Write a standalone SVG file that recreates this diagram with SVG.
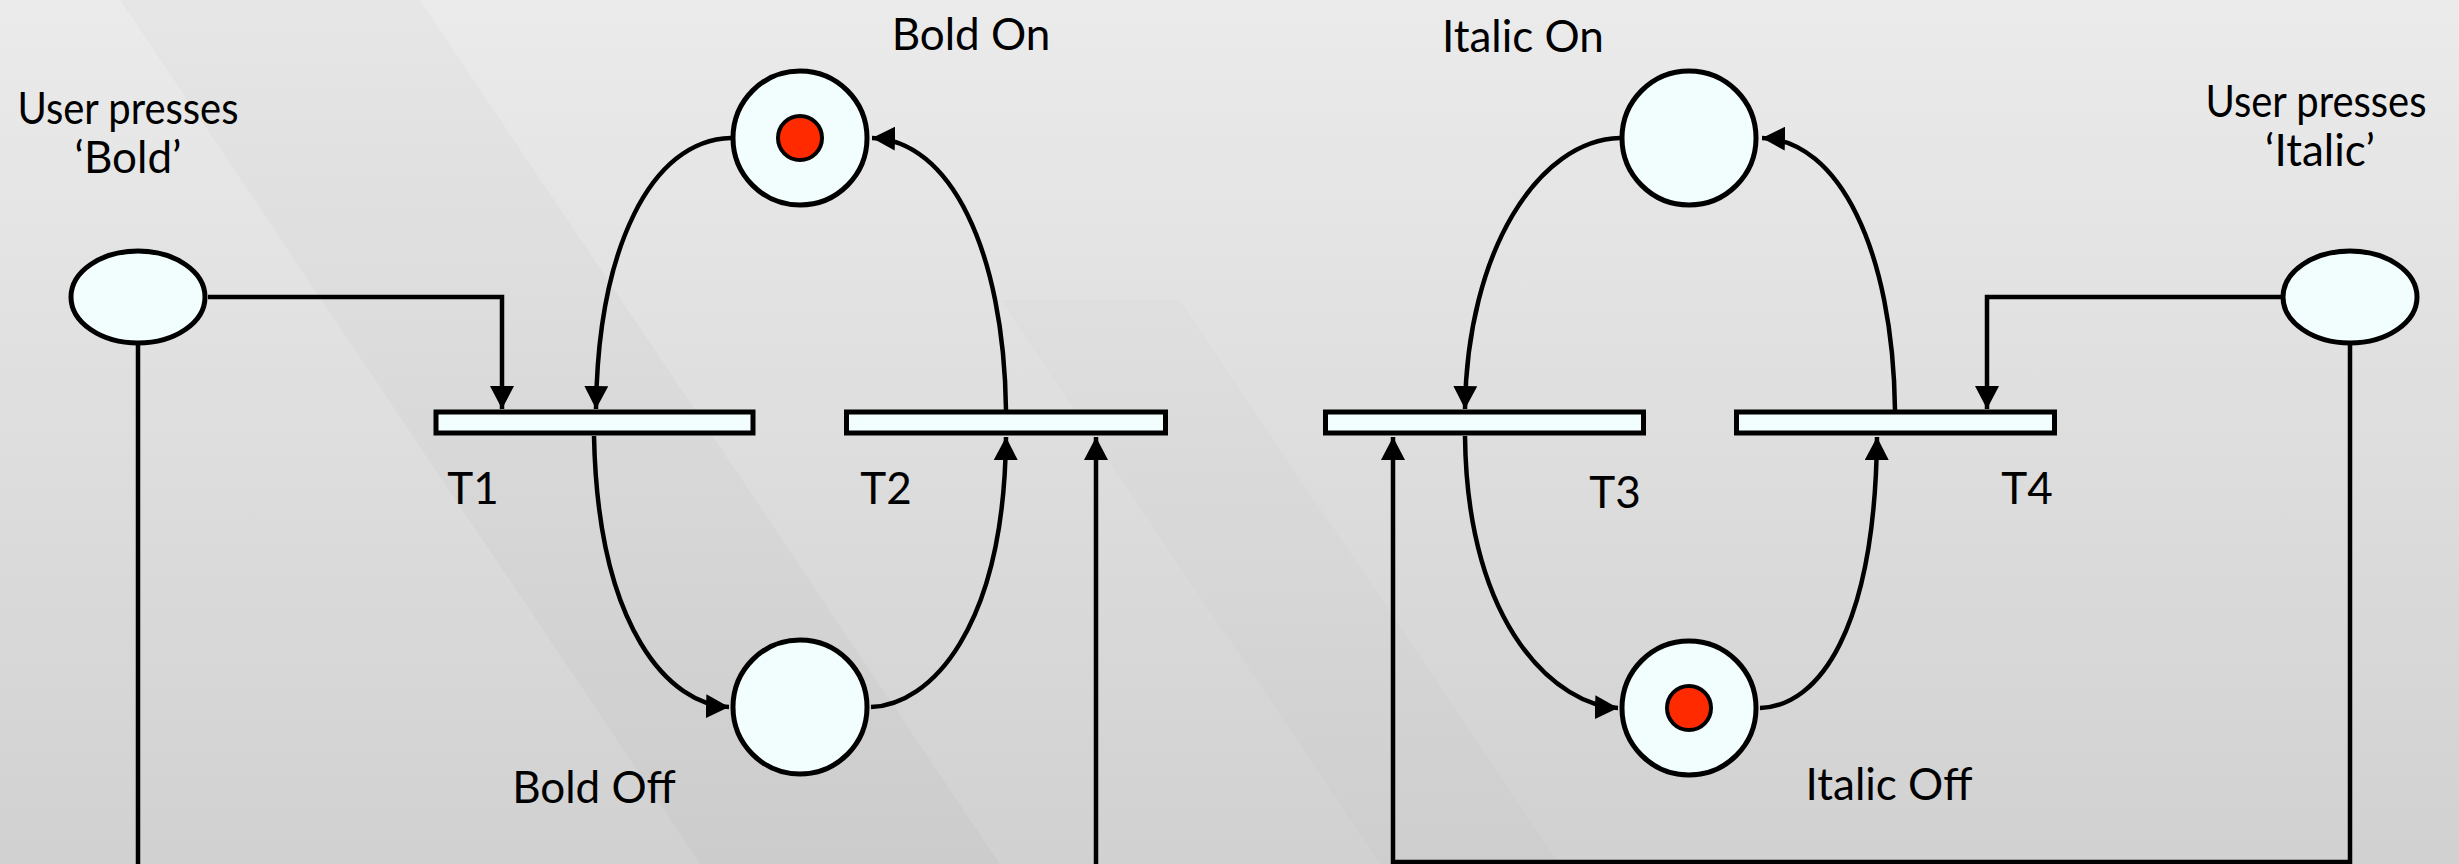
<svg xmlns="http://www.w3.org/2000/svg" width="2459" height="864" viewBox="0 0 2459 864">
<defs>
<linearGradient id="bg" x1="0" y1="0" x2="0" y2="1">
<stop offset="0" stop-color="#ebebeb"/>
<stop offset="1" stop-color="#d1d1d1"/>
</linearGradient>
<marker id="ah" markerUnits="userSpaceOnUse" markerWidth="24" markerHeight="24" refX="23" refY="12" orient="auto">
<path d="M0,0 L23,12 L0,24 z" fill="#000"/>
</marker>
<style>
.place{fill:#f2fefe;stroke:#000;stroke-width:5}
.trans{fill:#f2fefe;stroke:#000;stroke-width:5}
.token{fill:#ff2a00;stroke:#000;stroke-width:4}
.arc{fill:none;stroke:#000;stroke-width:4.5;marker-end:url(#ah)}
text{font-family:Lato,"Open Sans","Liberation Sans",sans-serif;font-size:44px;fill:#000;text-anchor:middle}
</style>
</defs>
<rect width="2459" height="864" fill="url(#bg)"/>
<path d="M120,0 L420,0 L1000,864 L700,864 z" fill="#000" opacity="0.018"/>
<path d="M1000,300 L1180,300 L1560,864 L1380,864 z" fill="#000" opacity="0.01"/>

<g id="connectors">
<path class="arc" d="M208,297 H502 V409"/>
<path class="arc" d="M731,138 C650,140 598,250 596,409"/>
<path class="arc" d="M594,436 C598,630 670,705 729,707"/>
<path class="arc" d="M871,707 C930,705 1004,630 1006,437"/>
<path class="arc" d="M1006,410 C1004,250 950,140 872,138"/>
<path class="arc" d="M138,345 V868 H1096 V437"/>
<path class="arc" d="M1620,138 C1539,140 1467,250 1465,409"/>
<path class="arc" d="M1465,436 C1467,630 1559,706 1618,708"/>
<path class="arc" d="M1760,708 C1819,706 1875,630 1877,437"/>
<path class="arc" d="M1895,410 C1893,250 1839,140 1762,138"/>
<path class="arc" d="M2281,297 H1987 V409"/>
<path class="arc" d="M2350,345 V862 H1393 V437"/>
</g>

<g id="bold_on">
<circle class="place" cx="800" cy="138" r="67"/>
<circle class="token" cx="800" cy="138" r="22"/>
<text x="971" y="50">Bold On</text>
</g>
<g id="bold_off">
<circle class="place" cx="800" cy="707" r="67"/>
<text x="594" y="803">Bold Off</text>
</g>
<g id="italic_on">
<circle class="place" cx="1689" cy="138" r="67"/>
<text x="1523" y="52">Italic On</text>
</g>
<g id="italic_off">
<circle class="place" cx="1689" cy="708" r="67"/>
<circle class="token" cx="1689" cy="708" r="22"/>
<text x="1889" y="800">Italic Off</text>
</g>
<g id="press_bold">
<ellipse class="place" cx="138" cy="297" rx="67" ry="46"/>
<text x="128" y="124" textLength="221" lengthAdjust="spacingAndGlyphs">User presses</text>
<text x="128" y="173">‘Bold’</text>
</g>
<g id="press_italic">
<ellipse class="place" cx="2350" cy="297" rx="67" ry="46"/>
<text x="2316" y="117" textLength="221" lengthAdjust="spacingAndGlyphs">User presses</text>
<text x="2320" y="166">‘Italic’</text>
</g>
<g id="T1">
<rect class="trans" x="436" y="412" width="317" height="21"/>
<text x="473" y="504">T1</text>
</g>
<g id="T2">
<rect class="trans" x="846.5" y="412" width="319" height="21"/>
<text x="886" y="504">T2</text>
</g>
<g id="T3">
<rect class="trans" x="1325.5" y="412" width="318" height="21"/>
<text x="1615" y="508">T3</text>
</g>
<g id="T4">
<rect class="trans" x="1736.5" y="412" width="318" height="21"/>
<text x="2027" y="504">T4</text>
</g>
</svg>
